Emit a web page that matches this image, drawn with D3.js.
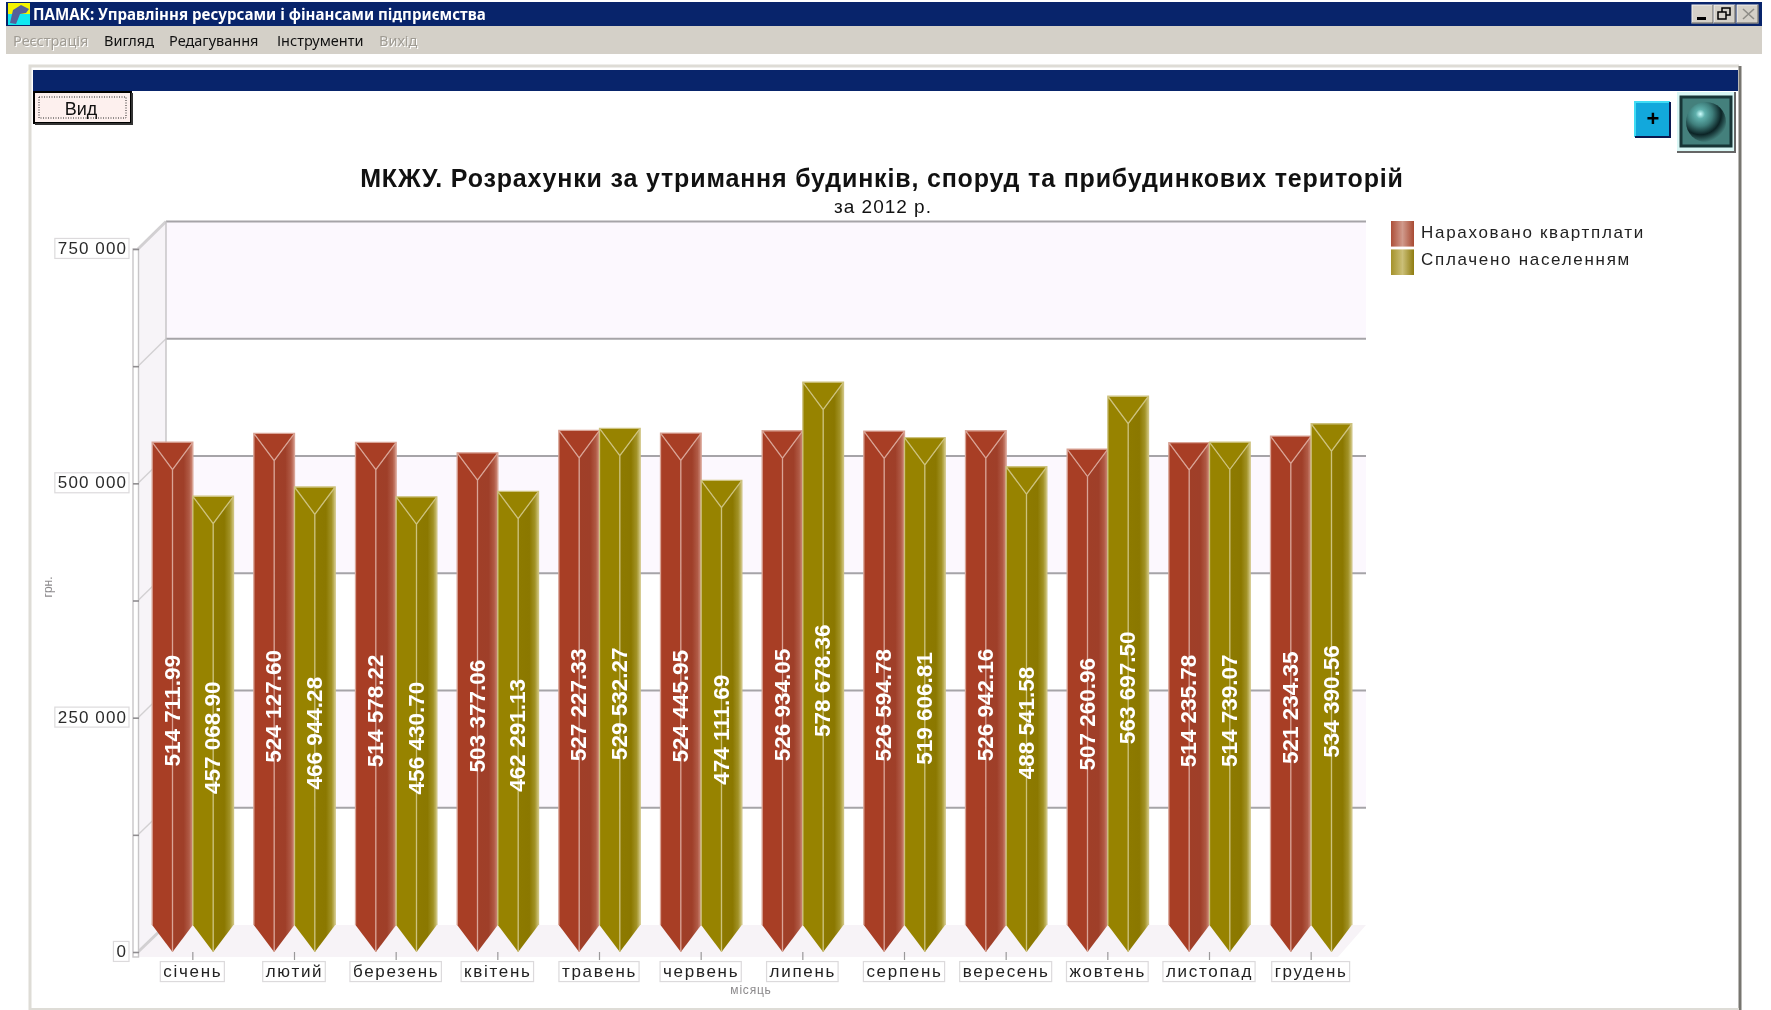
<!DOCTYPE html>
<html>
<head>
<meta charset="utf-8">
<script src="https://cdn.jsdelivr.net/npm/d3@7"></script>
<style>
html,body{margin:0;padding:0;background:#fff;overflow:hidden}
svg{display:block;filter:blur(0.6px)}
text{font-family:"Liberation Sans",Arial,sans-serif}
</style>
</head>
<body>
<svg width="1771" height="1010"></svg>
<script>
var months=["січень","лютий","березень","квітень","травень","червень","липень","серпень","вересень","жовтень","листопад","грудень"];
var seriesNames=["Нараховано квартплати","Сплачено населенням"];
var accrued=[514711.99,524127.60,514578.22,503377.06,527227.33,524445.95,526934.05,526594.78,526942.16,507260.96,514235.78,521234.35];
var paid=[457068.90,466944.28,456430.70,462291.13,529532.27,474111.69,578678.36,519606.81,488541.58,563697.50,514739.07,534390.56];
var tickValues=[0,125000,250000,375000,500000,625000,750000];
var labelledTicks=[0,250000,500000,750000];
var menuItems=["Реєстрація","Вигляд","Редагування","Інструменти","Вихід"];

var svg=d3.select("svg");
var defs=svg.append("defs");

function gradient(id,stops){
  var g=defs.append("linearGradient").attr("id",id);
  stops.forEach(function(s){
    g.append("stop").attr("offset",s[0]).attr("stop-color",s[1]);
  });
}
gradient("redSide",[[0,"#a03f28"],[0.55,"#9f3f29"],[0.82,"#b05a45"],[1,"#d18f7f"]]);
gradient("oliveSide",[[0,"#8d7a00"],[0.55,"#8b7800"],[0.82,"#a29226"],[1,"#cdc27a"]]);
gradient("redKey",[[0,"#ad4f38"],[0.5,"#d09a8c"],[1,"#a84a33"]]);
gradient("oliveKey",[[0,"#a5922a"],[0.5,"#cbbf78"],[1,"#8f7c10"]]);
var ballGrad=defs.append("radialGradient").attr("id","ball").attr("cx","0.36").attr("cy","0.3").attr("r","0.72");
ballGrad.append("stop").attr("offset",0).attr("stop-color","#d0ffff");
ballGrad.append("stop").attr("offset",0.16).attr("stop-color","#5fb0ac");
ballGrad.append("stop").attr("offset",0.42).attr("stop-color","#3f7f7c");
ballGrad.append("stop").attr("offset",0.72).attr("stop-color","#0c2426");
ballGrad.append("stop").attr("offset",1).attr("stop-color","#44807c");

// window chrome
var win=svg.append("g");
win.append("rect").attr("x",6).attr("y",2).attr("width",1756).attr("height",24).attr("fill","#08246b");
win.append("rect").attr("x",6).attr("y",26).attr("width",1756).attr("height",28).attr("fill","#d4d0c8");
win.append("rect").attr("x",8).attr("y",3).attr("width",22).attr("height",11).attr("fill","#f4f400");
win.append("rect").attr("x",8).attr("y",14).attr("width",22).attr("height",11).attr("fill","#10e8f0");
win.append("path").attr("d","M10 23 L13 10 L21 5 L29 9 L26 13 L20 14 L16 24 Z").attr("fill","#55609a");
win.append("text").attr("x",33).attr("y",20).attr("fill","#fff")
  .style("font-family","'Noto Sans'").style("font-weight",700).style("font-size","15.1px")
  .text("ПАМАК: Управління ресурсами і фінансами підприємства");

var menuX=d3.scaleOrdinal().domain(menuItems).range([13,104,169,277,379]);
menuItems.forEach(function(m,i){
  var off=(i==0||i==4);
  if(off){
    win.append("text").attr("x",menuX(m)+1).attr("y",47).attr("fill","#fff")
      .style("font-family","'Noto Sans'").style("font-size","14.5px").text(m);
  }
  win.append("text").attr("x",menuX(m)).attr("y",46).attr("fill",off?"#a09c94":"#111")
    .style("font-family","'Noto Sans'").style("font-size","14.5px").text(m);
});

[1692,1714,1737].forEach(function(bx,i){
  win.append("rect").attr("x",bx).attr("y",5).attr("width",21).attr("height",18)
    .attr("fill","#d4d0c8").attr("stroke","#f4f2ee").attr("stroke-width",1);
  win.append("path").attr("d","M"+(bx+21)+" 5 V23 H"+bx).attr("fill","none").attr("stroke","#55534e");
});
win.append("rect").attr("x",1697).attr("y",17).attr("width",9).attr("height",3).attr("fill","#000");
win.append("rect").attr("x",1722).attr("y",8).attr("width",8).attr("height",7).attr("fill","none").attr("stroke","#000").attr("stroke-width",1.5);
win.append("rect").attr("x",1718).attr("y",12).attr("width",8).attr("height",7).attr("fill","#d4d0c8").attr("stroke","#000").attr("stroke-width",1.5);
win.append("path").attr("d","M1743 9 L1754 19 M1754 9 L1743 19").attr("stroke","#8f8d88").attr("stroke-width",1.6);

// inner panel
var panel=svg.append("g");
panel.append("path").attr("d","M30 1010 V66 H1739").attr("fill","none").attr("stroke","#dedcd6").attr("stroke-width",3);
panel.append("path").attr("d","M1740 66 V1010").attr("fill","none").attr("stroke","#77756f").attr("stroke-width",3);
panel.append("path").attr("d","M30 1009 H1739").attr("fill","none").attr("stroke","#dedcd6").attr("stroke-width",2);
panel.append("rect").attr("x",33).attr("y",70).attr("width",1705).attr("height",21).attr("fill","#08246b");
panel.append("rect").attr("x",34).attr("y",92).attr("width",97).attr("height",31).attr("fill","#fdf0ee").attr("stroke","#000").attr("stroke-width",2);
panel.append("path").attr("d","M132 93 V124 H35").attr("fill","none").attr("stroke","#333").attr("stroke-width",2);
panel.append("rect").attr("x",39).attr("y",97).attr("width",87).attr("height",21).attr("fill","none").attr("stroke","#222").attr("stroke-dasharray","1 1.5");
panel.append("text").attr("x",81).attr("y",115).attr("text-anchor","middle").attr("fill","#111").style("font-size","18px").text("Вид");

panel.append("rect").attr("x",1635).attr("y",102).attr("width",35).attr("height",35).attr("fill","#12a8dc");
panel.append("path").attr("d","M1635 137 V102 H1670").attr("fill","none").attr("stroke","#40dcf4").attr("stroke-width",2);
panel.append("path").attr("d","M1670 102 V137 H1635").attr("fill","none").attr("stroke","#0a1850").attr("stroke-width",2);
panel.append("text").attr("x",1653).attr("y",126).attr("text-anchor","middle").attr("fill","#000").style("font-size","22px").style("font-weight",700).text("+");
panel.append("rect").attr("x",1677).attr("y",92).attr("width",58).attr("height",60).attr("fill","#d8f6f4");
panel.append("path").attr("d","M1677 152 H1735 V92").attr("fill","none").attr("stroke","#666").attr("stroke-width",2);
panel.append("rect").attr("x",1681).attr("y",97).attr("width",50).attr("height",49).attr("fill","#44807c").attr("stroke","#173536").attr("stroke-width",3);
panel.append("circle").attr("cx",1706).attr("cy",122).attr("r",20).attr("fill","url(#ball)");

// titles
svg.append("text").attr("x",882).attr("y",187).attr("text-anchor","middle").attr("fill","#111")
  .style("font-size","25px").style("font-weight",700).style("letter-spacing","0.83px")
  .text("МКЖУ. Розрахунки за утримання будинків, споруд та прибудинкових територій");
svg.append("text").attr("x",883).attr("y",213).attr("text-anchor","middle").attr("fill","#111")
  .style("font-size","19px").style("letter-spacing","1px").text("за 2012 р.");

// scales: front edge and back wall of the 3d box
var x=d3.scaleBand().domain(months).range([142,1362]).paddingInner(0.2).paddingOuter(0.1);
var xSeries=d3.scaleBand().domain(seriesNames).range([0,x.bandwidth()]);
var yFront=d3.scaleLinear().domain([0,750000]).range([952,249]);
var yBack=d3.scaleLinear().domain([0,750000]).range([925,221.5]);
var wallLeft=166,wallRight=1366,frontLeft=138;

var chart=svg.append("g");

// back wall bands
var bands=tickValues.slice(0,-1);
chart.selectAll(".band").data(bands).enter().append("rect")
  .attr("x",wallLeft).attr("width",wallRight-wallLeft)
  .attr("y",function(d){return yBack(d+125000);})
  .attr("height",function(d){return yBack(d)-yBack(d+125000);})
  .attr("fill",function(d,i){return i%2==1?"#fcf8fe":"#fff";});

// side wall and floor
chart.append("polygon").attr("fill","#f7f4f8")
  .attr("points",[[frontLeft,yFront(750000)],[wallLeft,yBack(750000)],[wallLeft,yBack(0)],[frontLeft,yFront(0)]].join(" "));
chart.append("polygon").attr("fill","#f7f3f7")
  .attr("points",[[wallLeft,yBack(0)],[wallRight,yBack(0)],[wallRight-28,957],[frontLeft-5,957]].join(" "));

chart.selectAll(".grid").data(tickValues).enter().append("line")
  .attr("x1",wallLeft).attr("x2",wallRight)
  .attr("y1",function(d){return yBack(d);}).attr("y2",function(d){return yBack(d);})
  .attr("stroke",function(d){return d==0?"none":"#a6a4a8";}).attr("stroke-width",1.8);
chart.selectAll(".diag").data(tickValues).enter().append("line")
  .attr("x1",frontLeft).attr("x2",wallLeft)
  .attr("y1",function(d){return yFront(d);}).attr("y2",function(d){return yBack(d);})
  .attr("stroke","#d2d0d2").attr("stroke-width",function(d){return d==750000||d==0?3:1.4;});
chart.append("line").attr("x1",wallLeft).attr("x2",wallLeft).attr("y1",yBack(750000)).attr("y2",yBack(0)).attr("stroke","#c4c2c4").attr("stroke-width",1.4);
chart.append("rect").attr("x",133).attr("y",yFront(750000)).attr("width",5.5).attr("height",yFront(0)-yFront(750000)+5)
  .attr("fill","#fff").attr("stroke","#c8c6c8").attr("stroke-width",1.4);

// y axis
var yAxis=d3.axisLeft(yFront).tickValues(tickValues).tickSize(6).tickPadding(6)
  .tickFormat(function(d){
    return labelledTicks.indexOf(d)<0?"":d3.format(",")(d).replace(/,/g," ");
  });
var yG=chart.append("g").attr("transform","translate(139,0)").call(yAxis);
yG.select(".domain").remove();
yG.selectAll("line").attr("stroke","#8f8d90").attr("stroke-width",1.6);
yG.selectAll("text").attr("fill","#2a2a2a").attr("y",-1).style("font-size","17px").style("letter-spacing","1.1px")
  .style("font-family","'Liberation Sans'");

// bars
var names=[accrued,paid];
var faces=[{flat:"#a83e25",side:"url(#redSide)",edge:"#d9a496"},{flat:"#978300",side:"url(#oliveSide)",edge:"#cdc27e"}];
var fmt=d3.formatLocale({decimal:".",thousands:" ",grouping:[3],currency:["",""]}).format(",.2f");
var barsG=chart.append("g");
var rows=[];
months.forEach(function(m,i){
  seriesNames.forEach(function(s,j){
    rows.push({month:m,series:s,value:names[j][i],face:faces[j]});
  });
});
var bar=barsG.selectAll("g").data(rows).enter().append("g");
function geom(d){
  var l=x(d.month)+xSeries(d.series),w=xSeries.bandwidth();
  return {l:l,c:l+w/2,r:l+w,top:yBack(d.value),tip:yFront(d.value),bot:yBack(0),end:yFront(0)};
}
bar.append("polygon").attr("fill",function(d){return d.face.flat;})
  .attr("points",function(d){var g=geom(d);return [[g.l,g.top],[g.c,g.tip],[g.c,g.end],[g.l,g.bot]].join(" ");});
bar.append("polygon").attr("fill",function(d){return d.face.side;})
  .attr("points",function(d){var g=geom(d);return [[g.c,g.tip],[g.r,g.top],[g.r,g.bot],[g.c,g.end]].join(" ");});
bar.append("polygon").attr("fill",function(d){return d.face.flat;})
  .attr("points",function(d){var g=geom(d);return [[g.l,g.top],[g.r,g.top],[g.c,g.tip]].join(" ");});
bar.append("path").attr("fill","none").attr("stroke",function(d){return d.face.edge;}).attr("stroke-width",1.3)
  .attr("d",function(d){var g=geom(d);
    return "M"+g.l+" "+g.bot+"V"+g.top+"H"+g.r+"V"+g.bot+
      "M"+g.l+" "+g.top+"L"+g.c+" "+g.tip+"L"+g.r+" "+g.top+"M"+g.c+" "+g.tip+"V"+g.end;});
bar.append("text").attr("text-anchor","middle").attr("dy","0.36em").attr("fill","#fff")
  .style("font-size","22.5px").style("font-weight",700)
  .attr("transform",function(d){var g=geom(d);return "translate("+(g.c-1)+","+yFront(d.value/2)+") rotate(-90)";})
  .text(function(d){return fmt(d.value);});

// x axis
var xAxis=d3.axisBottom(x).tickSize(8).tickPadding(5);
var xG=chart.append("g").attr("transform","translate(0,952)").call(xAxis);
xG.select(".domain").remove();
xG.selectAll("line").attr("stroke","#9a989a").attr("stroke-width",1.2);
xG.selectAll("text").attr("fill","#222").style("font-size","17px").style("letter-spacing","1.7px")
  .style("font-family","'Liberation Sans'");

// small boxes behind the tick labels
function boxLabels(sel){
  sel.selectAll("text").each(function(){
    if(!this.textContent) return;
    var b=this.getBBox();
    d3.select(this.parentNode).insert("rect","text")
      .attr("x",b.x-3).attr("y",b.y-0.5).attr("width",b.width+5).attr("height",b.height+1)
      .attr("fill","#fff").attr("stroke","#dcdadc").attr("stroke-width",1.2);
  });
}
boxLabels(yG);
boxLabels(xG);

// axis titles
svg.append("text").attr("x",751).attr("y",994).attr("text-anchor","middle").attr("fill","#8c8a8c").style("font-size","12px").style("letter-spacing","0.8px").text("місяць");
svg.append("text").attr("transform","translate(52,587) rotate(-90)").attr("text-anchor","middle").attr("fill","#8c8a8c").style("font-size","12px").text("грн.");

// legend
var legend=svg.append("g");
var legendY=d3.scaleBand().domain(seriesNames).range([221,275]).paddingInner(0.1);
seriesNames.forEach(function(s,i){
  legend.append("rect").attr("x",1391).attr("y",legendY(s)).attr("width",23).attr("height",legendY.bandwidth())
    .attr("fill",i==0?"url(#redKey)":"url(#oliveKey)");
  legend.append("text").attr("x",1421).attr("y",legendY(s)+17-(i*1)).attr("fill","#222")
    .style("font-size","17px").style("letter-spacing","1.7px").text(s);
});
</script>
</body>
</html>
